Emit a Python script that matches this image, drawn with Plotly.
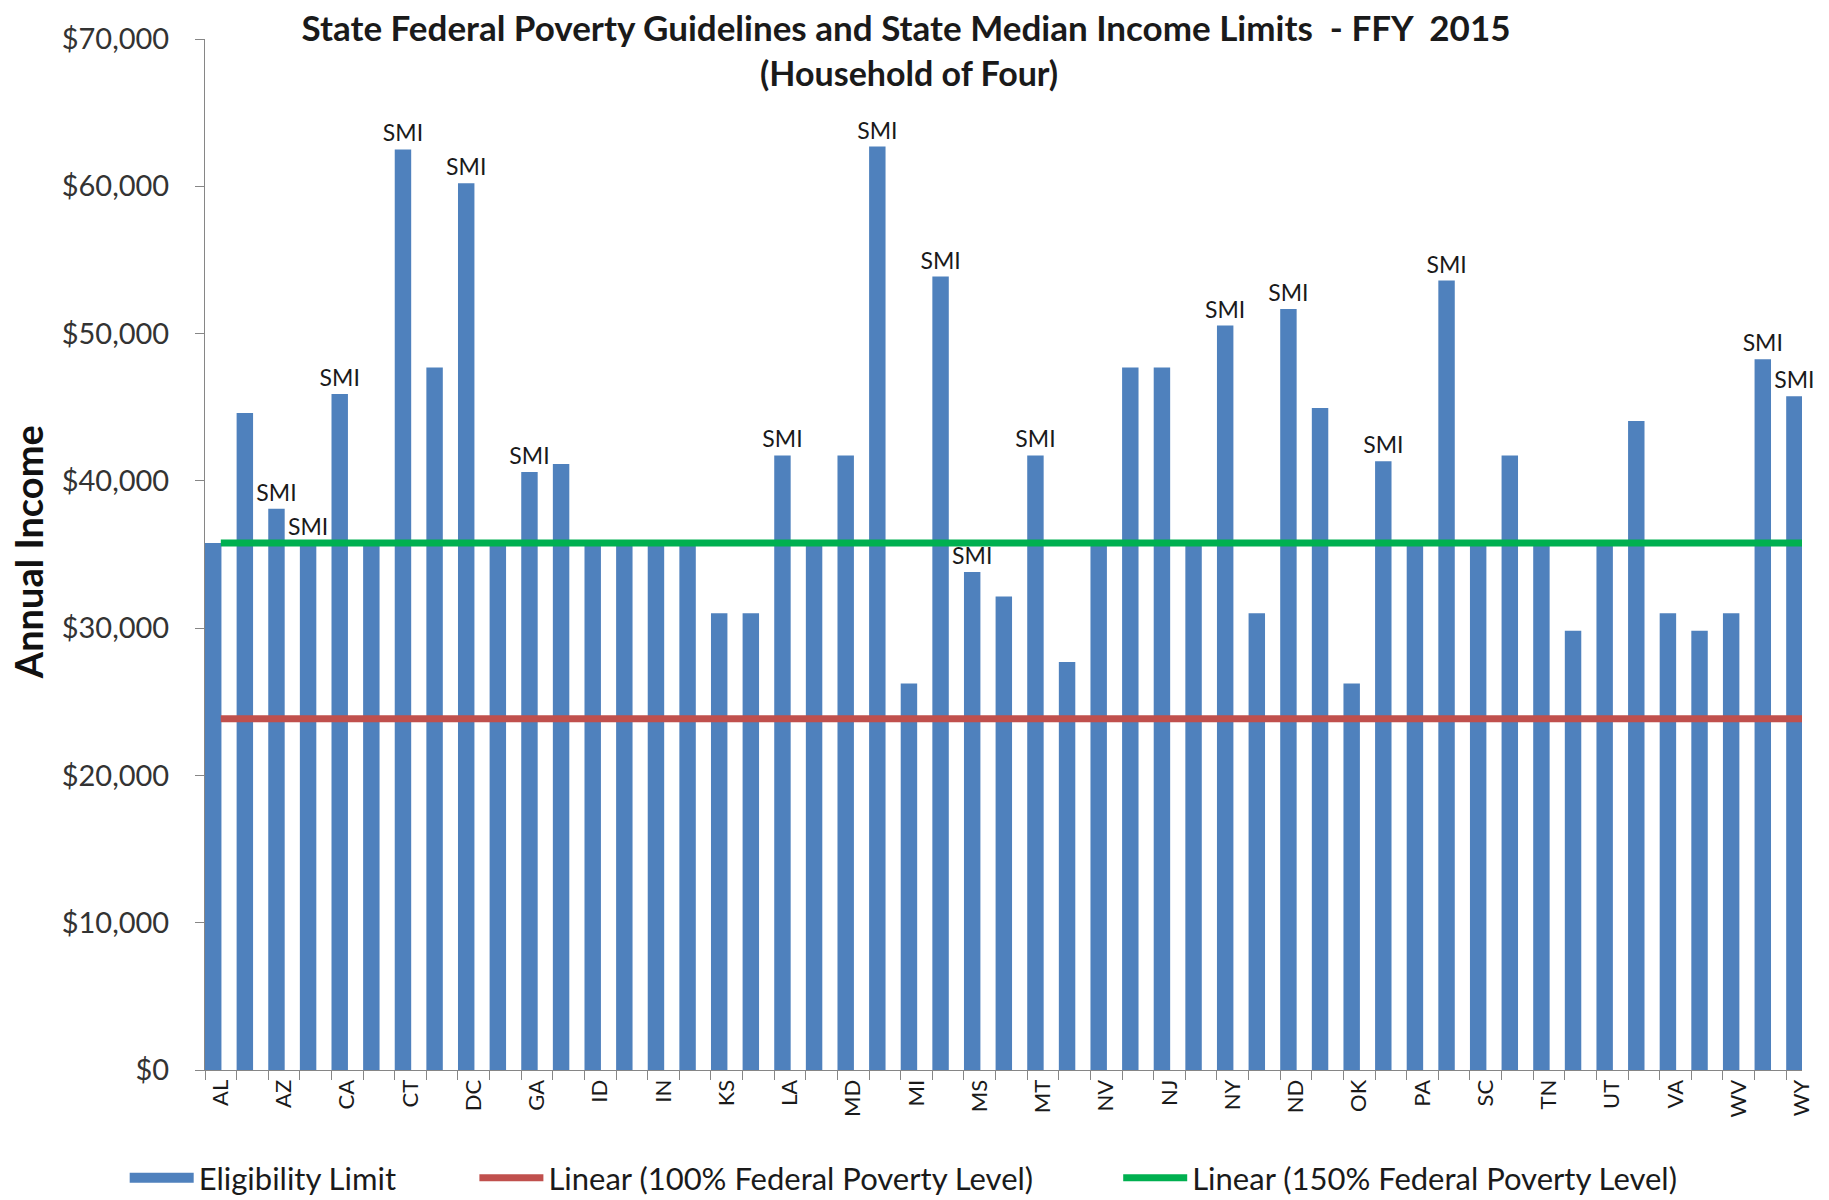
"""Seuils d'éligibilité par État : barres + lignes de pauvreté fédérale."""

import plotly.graph_objects as go

STATES = [
    "AL", "AK", "AZ", "AR", "CA", "CO", "CT", "DE", "DC", "FL", "GA", "HI", "ID",
    "IL", "IN", "IA", "KS", "KY", "LA", "ME", "MD", "MA", "MI", "MN", "MS", "MO",
    "MT", "NE", "NV", "NH", "NJ", "NM", "NY", "NC", "ND", "OH", "OK", "OR", "PA",
    "RI", "SC", "SD", "TN", "TX", "UT", "VT", "VA", "WA", "WV", "WI", "WY",
]
ELIGIBILITY = [
    35775, 44600, 38100, 35775, 45900, 35775, 62500, 47700, 60200, 35775, 40600,
    41150, 35775, 35775, 35775, 35775, 31005, 31005, 41730, 35775, 41730, 62700,
    26235, 53870, 33820, 32150, 41730, 27700, 35775, 47700, 47700, 35775, 50540,
    31005, 51660, 44950, 26235, 41330, 35775, 53600, 35775, 41730, 35775, 29815,
    35775, 44070, 31005, 29815, 31005, 48250, 45750,
]
SMI_FLAG = [
    0, 0, 1, 1, 1, 0, 1, 0, 1, 0, 1, 0, 0, 0, 0, 0, 0, 0, 1, 0, 0, 1, 0, 1, 1, 0,
    1, 0, 0, 0, 0, 0, 1, 0, 1, 0, 0, 1, 0, 1, 0, 0, 0, 0, 0, 0, 0, 0, 0, 1, 1,
]
TICK_LABELS = [s if i % 2 == 0 else "" for i, s in enumerate(STATES)]
FPL_100 = 23850
FPL_150 = 35775

FONT = "Lato"
BLUE = "#4F81BD"
RED = "#C0504D"
GREEN = "#00B050"
AXIS = "#868686"
TEXT = "#1a1a1a"

fig = go.Figure()
fig.add_trace(
    go.Bar(
        x=STATES,
        y=ELIGIBILITY,
        name="Eligibility Limit",
        marker={"color": BLUE, "line": {"width": 0}},
        width=0.52,
        offset=-0.5,
        text=["SMI" if f else "" for f in SMI_FLAG],
        textposition="outside",
        constraintext="none",
        cliponaxis=False,
        textfont={"family": FONT, "size": 23, "color": TEXT},
        showlegend=False,
        legendgroup="elig",
    )
)
# entrée de légende : rectangle large comme dans Excel
fig.add_trace(
    go.Scatter(
        x=[None],
        y=[None],
        mode="lines",
        name="Eligibility Limit",
        line={"color": BLUE, "width": 22},
        legendgroup="elig",
        legend="legend",
    )
)
fig.add_trace(
    go.Scatter(
        x=STATES,
        y=[FPL_100] * len(STATES),
        mode="lines",
        name="Linear (100% Federal Poverty Level)",
        line={"color": RED, "width": 7},
        legend="legend2",
    )
)
fig.add_trace(
    go.Scatter(
        x=STATES,
        y=[FPL_150] * len(STATES),
        mode="lines",
        name="Linear (150% Federal Poverty Level)",
        line={"color": GREEN, "width": 7},
        legend="legend3",
    )
)

_legend = {
    "orientation": "h",
    "xref": "container",
    "yref": "container",
    "y": 0.025,
    "yanchor": "middle",
    "xanchor": "left",
    "font": {"family": FONT, "size": 31, "color": TEXT},
    "bgcolor": "rgba(0,0,0,0)",
    "itemwidth": 64,
}

fig.update_layout(
    width=1829,
    height=1200,
    paper_bgcolor="white",
    plot_bgcolor="white",
    margin={"l": 197, "r": 35, "t": 24, "b": 138},
    font={"family": FONT, "color": TEXT},
    title={
        "text": "<b>State Federal Poverty Guidelines and State Median Income Limits  - FFY  2015</b>",
        "xref": "container",
        "x": 0.491,
        "xanchor": "center",
        "yref": "container",
        "y": 0.9825,
        "yanchor": "middle",
        "font": {"family": FONT, "size": 35, "color": TEXT},
    },
    bargap=0.48,
    showlegend=True,
    legend={**_legend, "x": 0.0638},
    legend2={**_legend, "x": 0.255},
    legend3={**_legend, "x": 0.607},
    xaxis={
        "type": "category",
        "range": [-0.5, 50],
        "tickvals": STATES,
        "ticktext": TICK_LABELS,
        "tickangle": -90,
        "tickson": "boundaries",
        "ticks": "outside",
        "ticklen": 9,
        "tickcolor": AXIS,
        "showline": True,
        "linecolor": AXIS,
        "linewidth": 1,
        "showgrid": False,
        "tickfont": {"family": FONT, "size": 22, "color": TEXT},
    },
    yaxis={
        "range": [0, 70000],
        "dtick": 10000,
        "tickprefix": "$",
        "tickformat": ",",
        "ticks": "outside",
        "ticklen": 9,
        "tickcolor": AXIS,
        "ticklabelstandoff": 20,
        "showline": True,
        "linecolor": AXIS,
        "linewidth": 1,
        "showgrid": False,
        "zeroline": False,
        "tickfont": {"family": FONT, "size": 29, "color": "#333"},
    },
)
fig.add_annotation(
    text="<b>(Household of Four)</b>",
    xref="paper",
    yref="paper",
    x=0.4408,
    y=0.9677,
    yanchor="middle",
    showarrow=False,
    font={"family": FONT, "size": 34, "color": TEXT},
)
fig.add_annotation(
    text="<b>Annual Income</b>",
    xref="paper",
    yref="paper",
    x=-0.1108,
    y=0.5023,
    xanchor="center",
    yanchor="middle",
    textangle=-90,
    showarrow=False,
    font={"family": FONT, "size": 38, "color": "#111"},
)

fig.write_html("out.html")
